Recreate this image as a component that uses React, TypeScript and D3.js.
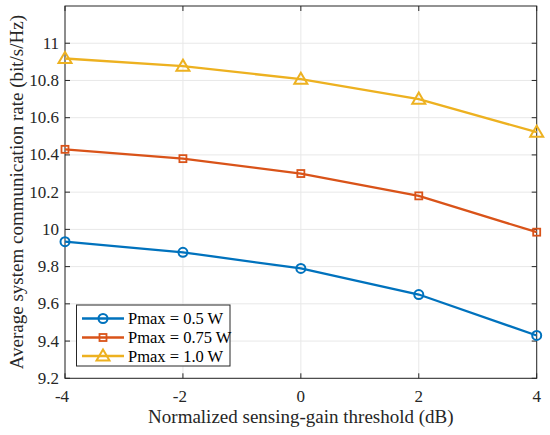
import { useEffect, useRef } from "react"
import * as d3 from "d3"

const thresholds = [-4, -2, 0, 2, 4]
const rate05 = [9.934, 9.877, 9.79, 9.65, 9.43]
const rate075 = [10.43, 10.38, 10.30, 10.18, 9.985]
const rate10 = [10.918, 10.877, 10.807, 10.70, 10.522]
const seriesNames = ["Pmax = 0.5 W", "Pmax = 0.75 W", "Pmax = 1.0 W"]
const xTicks = [-4, -2, 0, 2, 4]
const yTicks = [9.2, 9.4, 9.6, 9.8, 10, 10.2, 10.4, 10.6, 10.8, 11]

const colors = ["#0072BD", "#D95319", "#EDB120"]
const markers = ["circle", "square", "triangle"]
const font = "Liberation Serif, Times New Roman, serif"

export default function App() {
  const svgRef = useRef<SVGSVGElement>(null)

  useEffect(() => {
    if (!svgRef.current) return
    const svg = d3.select(svgRef.current)
    svg.selectAll("*").remove()
    const width = 550
    const height = 435
    const margin = { top: 6, right: 13.3, bottom: 56.7, left: 65 }

    const xScale = d3.scaleLinear()
      .domain([-4, 4])
      .range([margin.left, width - margin.right])
    const yScale = d3.scaleLinear()
      .domain([9.2, 11.2])
      .range([height - margin.bottom, margin.top])

    const x0 = margin.left, x1 = width - margin.right
    const y0 = height - margin.bottom, y1 = margin.top

    svg.append("rect")
      .attr("x", x0).attr("y", y1)
      .attr("width", x1 - x0).attr("height", y0 - y1)
      .attr("fill", "#fff")

    // grid
    const grid = svg.append("g").attr("stroke", "#e8e8e8").attr("stroke-width", 1)
    xTicks.forEach(t => {
      grid.append("line").attr("x1", xScale(t)).attr("x2", xScale(t)).attr("y1", y0).attr("y2", y1)
    })
    yTicks.forEach(t => {
      grid.append("line").attr("x1", x0).attr("x2", x1).attr("y1", yScale(t)).attr("y2", yScale(t))
    })

    // box
    svg.append("rect")
      .attr("x", x0).attr("y", y1)
      .attr("width", x1 - x0).attr("height", y0 - y1)
      .attr("fill", "none").attr("stroke", "#262626").attr("stroke-width", 1)

    // ticks
    const tk = svg.append("g").attr("stroke", "#262626").attr("stroke-width", 1)
    xTicks.forEach(t => {
      tk.append("line").attr("x1", xScale(t)).attr("x2", xScale(t)).attr("y1", y0).attr("y2", y0 - 5)
      tk.append("line").attr("x1", xScale(t)).attr("x2", xScale(t)).attr("y1", y1).attr("y2", y1 + 5)
    })
    yTicks.forEach(t => {
      tk.append("line").attr("x1", x0).attr("x2", x0 + 5).attr("y1", yScale(t)).attr("y2", yScale(t))
      tk.append("line").attr("x1", x1).attr("x2", x1 - 5).attr("y1", yScale(t)).attr("y2", yScale(t))
    })

    svg.append("g").selectAll("text").data(xTicks).join("text")
      .attr("x", d => xScale(d) - (d < 0 ? 3 : 0))
      .attr("y", y0 + 23.5)
      .attr("text-anchor", "middle")
      .attr("font-family", font).attr("font-size", 17).attr("fill", "#262626")
      .text(d => String(d))

    svg.append("g").selectAll("text").data(yTicks).join("text")
      .attr("x", x0 - 6)
      .attr("y", d => yScale(d) + 5.5)
      .attr("text-anchor", "end")
      .attr("font-family", font).attr("font-size", 17).attr("fill", "#262626")
      .text(d => String(d))

    svg.append("text")
      .attr("x", (x0 + x1) / 2).attr("y", 423)
      .attr("text-anchor", "middle")
      .attr("font-family", font).attr("font-size", 19).attr("fill", "#262626")
      .text("Normalized sensing-gain threshold (dB)")

    svg.append("text")
      .attr("transform", `translate(23,${(y0 + y1) / 2}) rotate(-90)`)
      .attr("text-anchor", "middle")
      .attr("font-family", font).attr("font-size", 19).attr("fill", "#262626")
      .text("Average system communication rate (bit/s/Hz)")

    const drawMarker = (g: d3.Selection<SVGGElement, unknown, null, undefined>, kind: string, cx: number, cy: number, color: string) => {
      if (kind === "circle") {
        g.append("circle").attr("cx", cx).attr("cy", cy).attr("r", 4.5)
          .attr("fill", "none").attr("stroke", color).attr("stroke-width", 2)
      } else if (kind === "square") {
        g.append("rect").attr("x", cx - 3.5).attr("y", cy - 3.5).attr("width", 7).attr("height", 7)
          .attr("fill", "none").attr("stroke", color).attr("stroke-width", 1.8)
      } else {
        const s = 6.5
        g.append("path")
          .attr("d", `M${cx},${cy - s}L${cx + s},${cy + s * 0.7}L${cx - s},${cy + s * 0.7}Z`)
          .attr("fill", "none").attr("stroke", color).attr("stroke-width", 2)
      }
    }

    const allSeries = [rate05, rate075, rate10]
    const line = d3.line<number>()
      .x((_, i) => xScale(thresholds[i]))
      .y(d => yScale(d))

    allSeries.forEach((vals, si) => {
      const g = svg.append("g")
      g.append("path").datum(vals)
        .attr("fill", "none").attr("stroke", colors[si]).attr("stroke-width", 2.3)
        .attr("d", line)
      vals.forEach((v, i) => drawMarker(g, markers[si], xScale(thresholds[i]), yScale(v), colors[si]))
    })

    // legend
    const lg = svg.append("g")
    lg.append("rect").attr("x", 76.5).attr("y", 305).attr("width", 153.5).attr("height", 61)
      .attr("fill", "#fff").attr("stroke", "#262626").attr("stroke-width", 1)
    const rows = [318.5, 337.5, 356]
    seriesNames.forEach((name, si) => {
      const yy = rows[si]
      lg.append("line").attr("x1", 82).attr("x2", 124).attr("y1", yy).attr("y2", yy)
        .attr("stroke", colors[si]).attr("stroke-width", 2.3)
      drawMarker(lg as any, markers[si], 103, yy, colors[si])
      lg.append("text").attr("x", 128).attr("y", yy + 5.5)
        .attr("font-family", font).attr("font-size", 16.5).attr("fill", "#000")
        .text(name)
    })
  }, [])

  return (
    <svg ref={svgRef} width={550} height={435}
      style={{ position: "absolute", left: 0, top: 0, background: "#fff" }} />
  )
}
